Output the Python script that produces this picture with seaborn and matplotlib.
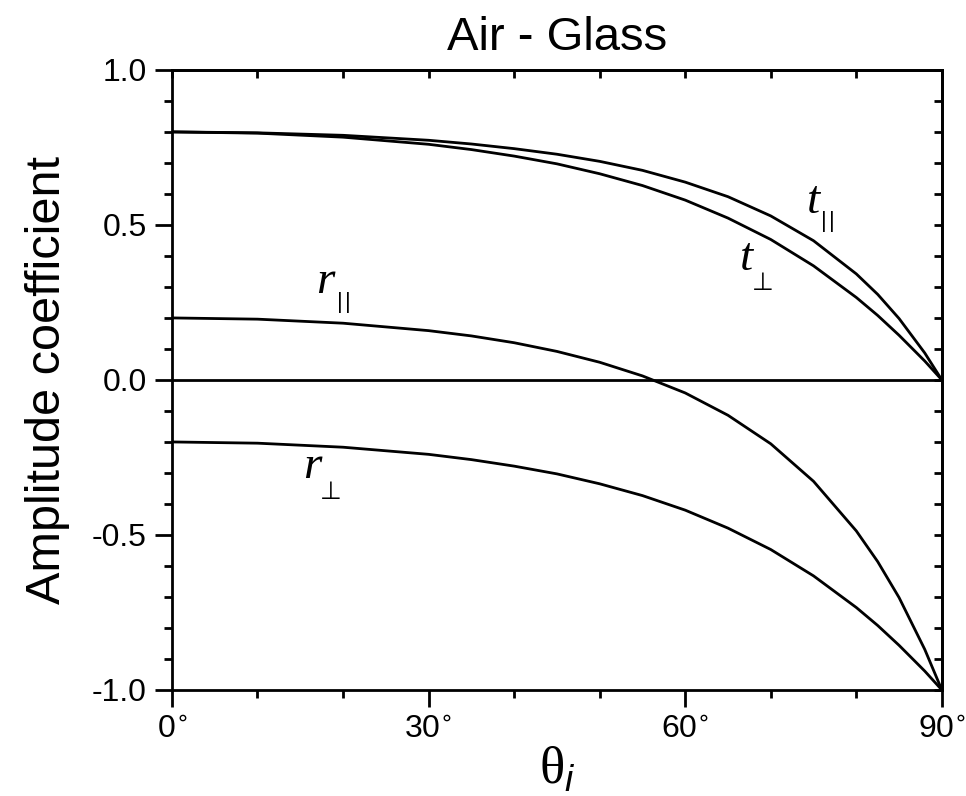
import numpy as np
import pandas as pd
import matplotlib
matplotlib.use("Agg")
import matplotlib.pyplot as plt
import seaborn as sns
from matplotlib.ticker import MultipleLocator

# Incidence angle (degrees) and amplitude coefficients, air -> glass
angle = [0, 10, 20, 30, 35, 40, 45, 50, 55, 60, 65, 70, 75, 80, 82.5, 85, 88, 90]
r_perp = [-0.200, -0.204, -0.217, -0.240, -0.257, -0.278, -0.303, -0.335, -0.373,
          -0.420, -0.478, -0.547, -0.632, -0.734, -0.792, -0.856, -0.939, -1.000]
r_par = [0.200, 0.196, 0.183, 0.159, 0.142, 0.120, 0.092, 0.057, 0.013,
         -0.042, -0.114, -0.206, -0.327, -0.487, -0.586, -0.702, -0.869, -1.000]
t_perp = [0.800, 0.796, 0.783, 0.760, 0.743, 0.722, 0.697, 0.665, 0.627,
          0.580, 0.522, 0.453, 0.368, 0.266, 0.208, 0.144, 0.061, 0.000]
t_par = [0.800, 0.797, 0.789, 0.773, 0.761, 0.746, 0.728, 0.705, 0.676,
         0.638, 0.591, 0.529, 0.449, 0.342, 0.276, 0.198, 0.087, 0.000]

xticks = [0, 30, 60, 90]
xtick_labels = ["0$^{\\circ}$", "30$^{\\circ}$", "60$^{\\circ}$", "90$^{\\circ}$"]
yticks = [-1.0, -0.5, 0.0, 0.5, 1.0]
ytick_labels = ["-1.0", "-0.5", "0.0", "0.5", "1.0"]

sns.set_style("ticks")
plt.rcParams["font.family"] = ["Liberation Sans", "DejaVu Sans"]
plt.rcParams["mathtext.fontset"] = "custom"
plt.rcParams["mathtext.rm"] = "Liberation Serif"
plt.rcParams["mathtext.it"] = "Liberation Sans:italic"
for key in ["text.color", "axes.labelcolor", "xtick.color", "ytick.color",
            "axes.edgecolor"]:
    plt.rcParams[key] = "black"

df = pd.DataFrame({"angle": angle, "r_perp": r_perp, "r_par": r_par,
                   "t_perp": t_perp, "t_par": t_par})

fig = plt.figure(figsize=(9.66, 7.96), dpi=100)
ax = fig.add_axes([0.178, 0.1332, 0.797, 0.779])

for col in ["t_par", "t_perp", "r_par", "r_perp"]:
    sns.lineplot(data=df, x="angle", y=col, ax=ax, color="black", lw=2.0)
ax.axhline(0.0, color="black", lw=2.0, zorder=1)

ax.set_xlim(0, 90)
ax.set_ylim(-1.0, 1.0)

ax.set_xticks(xticks)
ax.set_xticklabels(xtick_labels, fontsize=23, math_fontfamily="dejavusans")
ax.set_yticks(yticks)
ax.set_yticklabels(ytick_labels, fontsize=23)
ax.xaxis.set_minor_locator(MultipleLocator(10))
ax.yaxis.set_minor_locator(MultipleLocator(0.1))

ax.tick_params(which="major", direction="out", length=12, width=2, pad=6,
               top=False, right=False)
ax.tick_params(which="minor", direction="out", length=6, width=2,
               top=False, right=False)

for s in ax.spines.values():
    s.set_linewidth(2)

# mirrored inward ticks on the top and right edges
top = ax.secondary_xaxis("top")
top.set_xticks(np.arange(0, 91, 10))
top.set_xticklabels([])
top.tick_params(direction="in", length=6, width=2)
top.spines["top"].set_linewidth(2)
right = ax.secondary_yaxis("right")
right.set_yticks(np.arange(-1.0, 1.01, 0.1))
right.set_yticklabels([])
right.tick_params(direction="in", length=6, width=2)
right.spines["right"].set_linewidth(2)

ax.set_xlabel(r"$\mathrm{\theta}_{\mathit{i}}$", fontsize=38, labelpad=0)
ax.set_ylabel("Amplitude coefficient", fontsize=35, labelpad=16)
ax.set_title("Air - Glass", fontsize=34, pad=14)


def curve_label(x, y, letter, sub, dx, dy):
    ax.text(x, y, letter, fontsize=34, family="Liberation Serif",
            style="italic", va="baseline", ha="left")
    sub_kw = dict(xy=(x, y), textcoords="offset pixels", va="top", ha="left")
    if sub == "par":
        for k in range(2):
            ax.annotate("|", xytext=(dx + 8 * k, dy), fontsize=16,
                        family="Liberation Sans", **sub_kw)
    else:
        ax.annotate("\u22a5", xytext=(dx, dy), fontsize=18,
                    family="DejaVu Sans", **sub_kw)


curve_label(74.2, 0.539, "t", "par", 14, 2)
curve_label(66.4, 0.355, "t", "perp", 12, -1)
curve_label(16.9, 0.280, "r", "par", 20, 1)
curve_label(15.3, -0.316, "r", "perp", 17, -2)

fig.savefig("out.png", dpi=100)
